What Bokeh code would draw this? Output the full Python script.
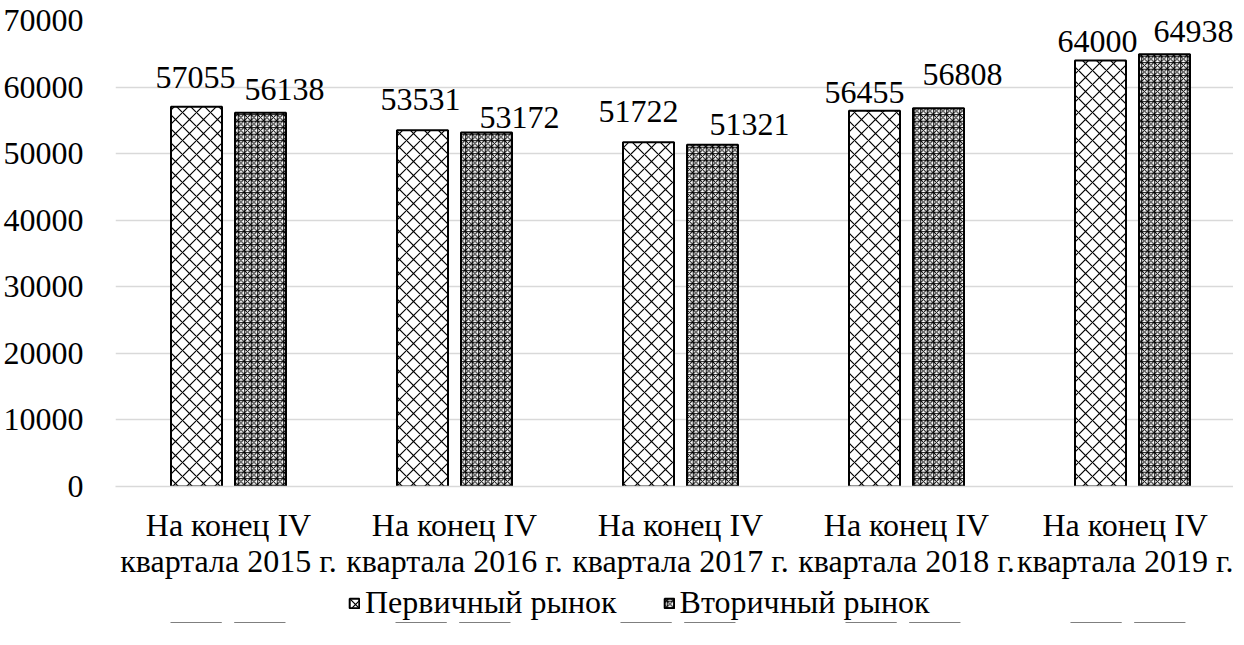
from bokeh.plotting import figure
from bokeh.layouts import column
from bokeh.models import (ColumnDataSource, Range1d, FixedTicker, LabelSet,
                          Legend, LegendItem)
from bokeh.transform import dodge
from bokeh.embed import file_html
from bokeh.resources import INLINE

categories = ["На конец IV\nквартала 2015 г.", "На конец IV\nквартала 2016 г.",
              "На конец IV\nквартала 2017 г.", "На конец IV\nквартала 2018 г.",
              "На конец IV\nквартала 2019 г."]
primary = [57055, 53531, 51722, 56455, 64000]
secondary = [56138, 53172, 51321, 56808, 64938]
series_names = ["Первичный рынок", "Вторичный рынок"]
y_ticks = [0, 10000, 20000, 30000, 40000, 50000, 60000, 70000]

# label nudges (screen px), as placed in the original chart
primary_label_dx = [-1, -2, -10, -10, -3]
primary_label_dy = [19, 20, 20, 8, 8]
secondary_label_dx = [24, 33, 37, 24, 29]
secondary_label_dy = [13, 5, 10, 23, 12]

FONT = "Liberation Serif"
FS = "32px"
CAT_PX = 226          # pixels per category slot
FRAME_W = 1118
FRAME_H = 466

STYLE1 = dict(fill_color="white", line_color="black", line_width=2,
              hatch_pattern="diagonal_cross", hatch_color="black", hatch_scale=14, hatch_weight=1.2)
STYLE2 = dict(fill_color="white", line_color="black", line_width=2,
              hatch_pattern="criss_cross", hatch_color="black", hatch_scale=6.5, hatch_weight=1)

xpos = [i + 0.5 for i in range(len(categories))]
src = ColumnDataSource(dict(x=xpos, p=primary, s=secondary,
                            pl=[str(v) for v in primary], sl=[str(v) for v in secondary],
                            pdx=primary_label_dx, pdy=primary_label_dy,
                            sdx=secondary_label_dx, sdy=secondary_label_dy))

p = figure(x_range=Range1d(0, FRAME_W / CAT_PX), y_range=Range1d(0, 70000),
           frame_width=FRAME_W, frame_height=FRAME_H, output_backend="svg",
           toolbar_location=None, min_border_left=110, min_border_right=0,
           min_border_top=20, min_border_bottom=0)
p.outline_line_color = None

off = 32 / CAT_PX
bw = 51 / CAT_PX
p.vbar(x=dodge("x", -off), top="p", width=bw, source=src, **STYLE1)
p.vbar(x=dodge("x", off), top="s", width=bw, source=src, **STYLE2)

l1 = LabelSet(x=dodge("x", -off), y="p", text="pl", source=src,
              text_align="center", text_baseline="alphabetic", x_offset="pdx", y_offset="pdy",
              text_font=FONT, text_font_size=FS, text_color="black")
l2 = LabelSet(x=dodge("x", off), y="s", text="sl", source=src,
              text_align="center", text_baseline="alphabetic", x_offset="sdx", y_offset="sdy",
              text_font=FONT, text_font_size=FS, text_color="black")
p.add_layout(l1)
p.add_layout(l2)

p.yaxis.ticker = FixedTicker(ticks=y_ticks)
p.yaxis.axis_line_color = None
p.yaxis.major_tick_line_color = None
p.yaxis.minor_tick_line_color = None
p.yaxis.major_label_text_font = FONT
p.yaxis.major_label_text_font_size = FS
p.yaxis.major_label_text_color = "black"
p.yaxis.major_label_standoff = 26

p.xaxis.ticker = FixedTicker(ticks=xpos)
p.xaxis.major_label_overrides = {x: c for x, c in zip(xpos, categories)}
p.xaxis.axis_line_color = "#d9d9d9"
p.xaxis.axis_line_width = 1.5
p.xaxis.major_tick_line_color = None
p.xaxis.minor_tick_line_color = None
p.xaxis.major_label_text_font = FONT
p.xaxis.major_label_text_font_size = FS
p.xaxis.major_label_text_color = "black"
p.xaxis.major_label_standoff = 14
p.xaxis.major_label_text_line_height = 1.0

p.xgrid.grid_line_color = None
p.ygrid.grid_line_color = "#d9d9d9"
p.ygrid.grid_line_width = 1.5

# legend strip below the chart (same series; its y range lies far above every bar,
# so the bars themselves never appear in this strip)
lg = figure(width=1228, height=42, output_backend="svg", toolbar_location=None,
            x_range=Range1d(0, FRAME_W / CAT_PX), y_range=Range1d(1e6, 1e6 + 1),
            min_border_left=0, min_border_right=0, min_border_top=0, min_border_bottom=0)
lg.axis.visible = False
lg.grid.visible = False
lg.outline_line_color = None
g1 = lg.vbar(x=dodge("x", -off), top="p", width=bw, source=src, **STYLE1)
g2 = lg.vbar(x=dodge("x", off), top="s", width=bw, source=src, **STYLE2)
legend = Legend(items=[LegendItem(label=series_names[0], renderers=[g1], index=0),
                       LegendItem(label=series_names[1], renderers=[g2], index=0)],
                orientation="horizontal", location=(233, 2),
                label_text_font=FONT, label_text_font_size=FS, label_text_color="black",
                glyph_width=12, glyph_height=12, spacing=46, label_standoff=5,
                border_line_color=None, background_fill_alpha=0, margin=0, padding=2)
lg.add_layout(legend, "center")

layout = column(p, lg, spacing=0)
open("out.html", "w").write(file_html(layout, INLINE))
